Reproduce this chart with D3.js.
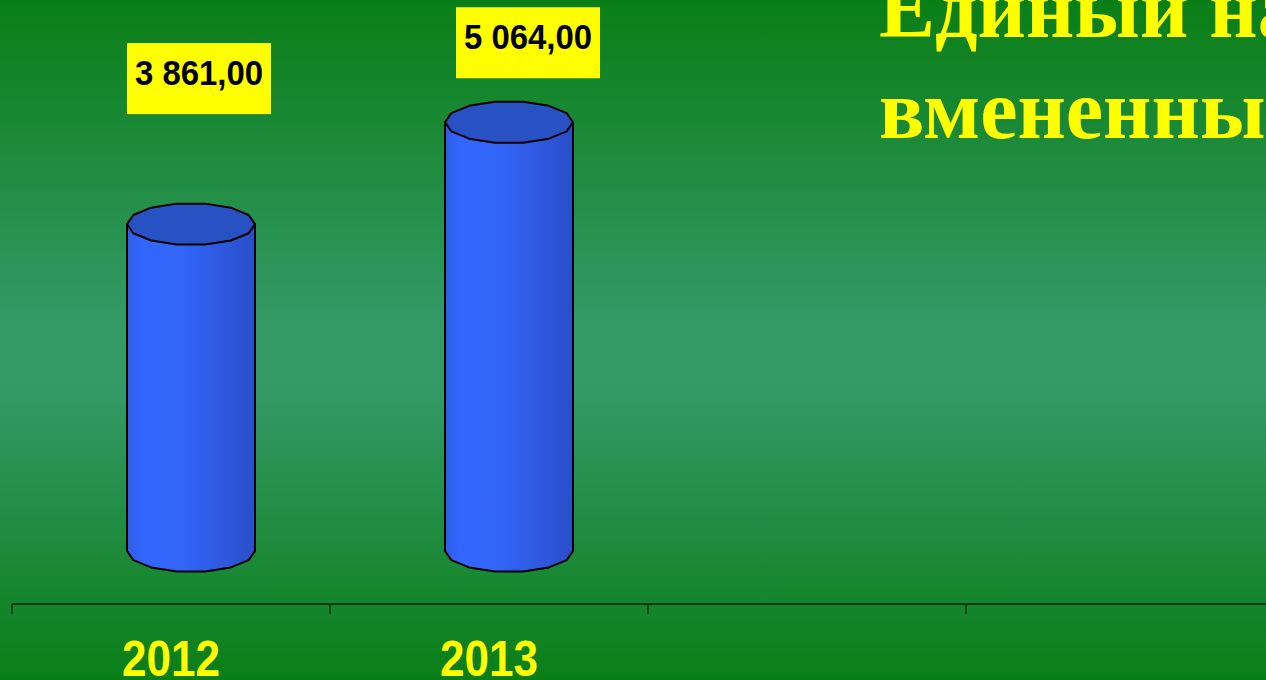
<!DOCTYPE html>
<html><head><meta charset="utf-8">
<script src="https://cdn.jsdelivr.net/npm/d3@7/dist/d3.min.js"></script>
<style>html,body{margin:0;padding:0;overflow:hidden;background:#0a7e16}</style>
</head><body>
<script>
// ---- data ----
const categories = ["2012", "2013", "", ""];
const values = [3861.00, 5064.00, null, null];
const valueLabels = ["3 861,00", "5 064,00"];
const titleLines = ["Единый налог на", "вмененный доход"];

// ---- layout ----
const W = 1266, H = 680;
const svg = d3.select("body").append("svg").attr("width", W).attr("height", H);
const defs = svg.append("defs");

const bg = defs.append("linearGradient").attr("id","bg").attr("x1",0).attr("y1",0).attr("x2",0).attr("y2",1);
[[0,"#0a7e16"],[0.48,"#349a68"],[0.58,"#339966"],[1,"#0a7e16"]].forEach(([o,c])=>bg.append("stop").attr("offset",o).attr("stop-color",c));
const body = defs.append("linearGradient").attr("id","cyl").attr("x1",0).attr("y1",0).attr("x2",1).attr("y2",0);
[[0,"#2e5de6"],[0.12,"#3366ff"],[0.45,"#3264f6"],[0.7,"#2f5ae2"],[1,"#2a4ec8"]].forEach(([o,c])=>body.append("stop").attr("offset",o).attr("stop-color",c));

svg.append("rect").attr("width",W).attr("height",H).attr("fill","url(#bg)");

const x = d3.scaleBand().domain(categories.map((c,i)=>i)).range([12, 12 + 318*4]).paddingInner(0).paddingOuter(0);
const y = d3.scaleLinear().domain([0, 6000]).range([551, 43]);

const depth = 20, rx = 64, ry = 21;
const labelNudge = [{dx: 8, dy: -160}, {dx: 19, dy: -94}];

// axis
const axisY = 604;
svg.append("line").attr("x1",12).attr("x2",W).attr("y1",axisY).attr("y2",axisY).attr("stroke","#0b3d14").attr("stroke-width",2);
categories.forEach((c,i)=>{
  svg.append("line").attr("x1",x(i)).attr("x2",x(i)).attr("y1",axisY).attr("y2",axisY+10).attr("stroke","#08300e").attr("stroke-width",1.5);
});
svg.selectAll("text.cat").data(categories.filter(c=>c)).join("text")
  .attr("x",(d,i)=>x(i)+x.bandwidth()/2).attr("y",676)
  .attr("text-anchor","middle").attr("fill","#ffff00")
  .attr("font-family","Liberation Sans, Arial, sans-serif").attr("font-weight","bold").attr("font-size",50)
  .attr("textLength",98).attr("lengthAdjust","spacingAndGlyphs").text(d=>d);

// polygonal ellipse
function ellipsePts(cx, cy, n=14){
  const pts=[];
  for(let k=0;k<n;k++){const a=2*Math.PI*k/n; pts.push([cx+rx*Math.cos(a), cy+ry*Math.sin(a)]);}
  return pts;
}
values.forEach((v,i)=>{
  if(v==null) return;
  const cx = x(i)+x.bandwidth()/2+depth;
  const yt = y(v), yb = y(0);
  const g = svg.append("g");
  const bottom = ellipsePts(cx, yb).filter(p=>p[1]>=yb-0.01).sort((a,b)=>b[0]-a[0]);
  const pts = [[cx-rx, yt],[cx-rx, yb]].concat(bottom.slice().reverse()).concat([[cx+rx,yb],[cx+rx,yt]]);
  g.append("path").attr("d", d3.line()(pts)+"Z").attr("fill","url(#cyl)").attr("stroke","#000").attr("stroke-width",2).attr("stroke-linejoin","round");
  g.append("path").attr("d", d3.line()(ellipsePts(cx,yt))+"Z").attr("fill","#2851c4").attr("stroke","#000").attr("stroke-width",2).attr("stroke-linejoin","round");

  const bw=144, bh=71;
  const bx = cx + labelNudge[i].dx - bw/2, by = yt - ry + labelNudge[i].dy;
  svg.append("rect").attr("x",bx).attr("y",by).attr("width",bw).attr("height",bh).attr("fill","#ffff00");
  svg.append("text").attr("x",bx+bw/2).attr("y",by+42).attr("text-anchor","middle")
    .attr("font-family","Liberation Sans, Arial, sans-serif").attr("font-weight","bold").attr("font-size",35)
    .attr("textLength",128).attr("lengthAdjust","spacingAndGlyphs").attr("fill","#000").text(valueLabels[i]);
});

// title
svg.selectAll("text.title").data(titleLines).join("text")
  .attr("x",879).attr("y",(d,i)=>37+i*101)
  .attr("fill","#ffff00").attr("font-family","Liberation Serif, Times New Roman, serif")
  .attr("font-weight","bold").attr("font-size",84).text(d=>d);
</script>
</body></html>
